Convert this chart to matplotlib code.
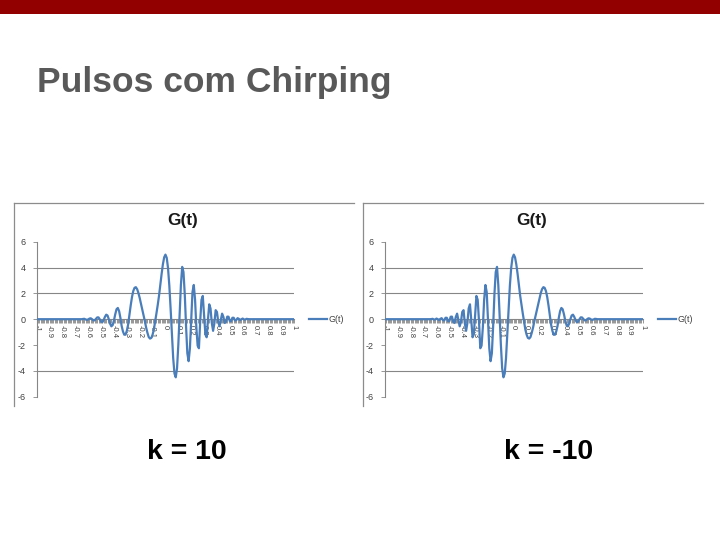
import numpy as np
import matplotlib
matplotlib.use("Agg")
import matplotlib.pyplot as plt
from matplotlib.lines import Line2D
from matplotlib.patches import Rectangle

plt.rcParams['font.family'] = ['Liberation Sans', 'DejaVu Sans']

# ---------------- data ----------------
slide_title = "Pulsos com Chirping"
chart_title = "G(t)"
series_name = "G(t)"
panel_labels = ["k = 10", "k = -10"]

# categories t = -1.00 ... 1.00 (step 0.01)
t = np.round(np.linspace(-1.0, 1.0, 201), 2)

g_k10 = [
    0, 0, 0, 0, 0, 0, 0, 0, 0, 0,
    0, 0, 0, 0, 0, 0, 0, 0, 0, 0,
    0, 0, 0, 0, 0, 0, 0, 0, 0, 0,
    0, 0, 0, 0, 0, 0.00, 0.02, 0.03, -0.02, -0.05,
    -0.02, 0.05, 0.07, 0.00, -0.09, -0.09, 0.02, 0.14, 0.14, -0.01,
    -0.19, -0.23, -0.07, 0.18, 0.35, 0.29, 0.00, -0.35, -0.55, -0.46,
    -0.10, 0.38, 0.77, 0.87, 0.63, 0.11, -0.53, -0.95, -1.20, -1.20,
    -0.90, -0.42, 0.32, 1.06, 1.71, 2.18, 2.43, 2.48, 2.33, 2.03,
    1.64, 1.19, 0.73, 0.29, -0.15, -0.65, -1.05, -1.38, -1.50, -1.45,
    -1.20, -0.80, -0.20, 0.45, 1.10, 1.81, 2.65, 3.49, 4.24, 4.79,
    5.00,
    4.75, 3.96, 2.61, 0.83, -1.16, -3.00, -4.20, -4.50, -3.80, -1.97,
    0.43, 2.65, 4.05, 3.65, 1.94, -0.53, -2.64, -3.25, -2.25, 0.01,
    2.10, 2.65, 1.51, -0.63, -2.05, -2.25, -0.13, 1.50, 1.80, 0.27,
    -1.17, -1.40, -0.06, 1.15, 0.84, -0.29, -0.90, -0.32, 0.70, 0.56,
    -0.20, -0.55, -0.06, 0.43, 0.18, -0.29, -0.20, 0.20, 0.19, -0.14,
    -0.15, 0.11, 0.11, -0.10, -0.07, 0.08, 0.03, -0.07, 0.00, 0.05,
    -0.02, -0.03, 0.03, 0.01, 0, 0, 0, 0, 0, 0,
    0, 0, 0, 0, 0, 0, 0, 0, 0, 0,
    0, 0, 0, 0, 0, 0, 0, 0, 0, 0,
    0, 0, 0, 0, 0, 0, 0, 0, 0, 0,
]

g_kneg10 = [
    0, 0, 0, 0, 0, 0, 0, 0, 0, 0,
    0, 0, 0, 0, 0, 0, 0, 0, 0, 0,
    0, 0, 0, 0, 0, 0, 0, 0, 0, 0,
    0, 0, 0, 0, 0, 0, 0.01, 0.03, -0.03, -0.02,
    0.05, 0.00, -0.07, 0.03, 0.08, -0.07, -0.10, 0.11, 0.11, -0.15,
    -0.14, 0.19, 0.20, -0.20, -0.29, 0.18, 0.43, -0.06, -0.55, -0.20,
    0.56, 0.70, -0.32, -0.90, -0.29, 0.84, 1.15, -0.06, -1.40, -1.17,
    0.27, 1.80, 1.50, -0.13, -2.25, -2.05, -0.63, 1.51, 2.65, 2.10,
    0.01, -2.25, -3.25, -2.64, -0.53, 1.94, 3.65, 4.05, 2.65, 0.43,
    -1.97, -3.80, -4.50, -4.20, -3.00, -1.16, 0.83, 2.61, 3.96, 4.75,
    5.00,
    4.79, 4.24, 3.49, 2.65, 1.81, 1.10, 0.45, -0.20, -0.80, -1.20,
    -1.45, -1.50, -1.38, -1.05, -0.65, -0.15, 0.29, 0.73, 1.19, 1.64,
    2.03, 2.33, 2.48, 2.43, 2.18, 1.71, 1.06, 0.32, -0.42, -0.90,
    -1.20, -1.20, -0.95, -0.53, 0.11, 0.63, 0.87, 0.77, 0.38, -0.10,
    -0.46, -0.55, -0.35, 0.00, 0.29, 0.35, 0.18, -0.07, -0.23, -0.19,
    -0.01, 0.14, 0.14, 0.02, -0.09, -0.09, 0.00, 0.07, 0.05, -0.02,
    -0.05, -0.02, 0.03, 0.02, 0.00, 0, 0, 0, 0, 0,
    0, 0, 0, 0, 0, 0, 0, 0, 0, 0,
    0, 0, 0, 0, 0, 0, 0, 0, 0, 0,
    0, 0, 0, 0, 0, 0, 0, 0, 0, 0,
]

x_tick_vals = t[::10]
x_tick_labels = ["-1", "-0.9", "-0.8", "-0.7", "-0.6", "-0.5", "-0.4", "-0.3",
                 "-0.2", "-0.1", "0", "0.1", "0.2", "0.3", "0.4", "0.5",
                 "0.6", "0.7", "0.8", "0.9", "1"]
y_tick_vals = [-6, -4, -2, 0, 2, 4, 6]
y_tick_labels = ["-6", "-4", "-2", "0", "2", "4", "6"]
grid_vals = [4, 2, -4]

# ---------------- figure ----------------
W, H = 720, 540
fig = plt.figure(figsize=(W / 100, H / 100), dpi=100)
fig.patch.set_facecolor('white')


def fx(px):
    return px / W


def fy(py):
    return 1 - py / H


# top red band
fig.patches.append(Rectangle((0, fy(14)), 1, 14 / H, transform=fig.transFigure,
                             facecolor='#930000', edgecolor='none', zorder=0))

fig.text(fx(37), fy(91.5), slide_title, fontsize=25.5, fontweight='bold',
         color='#595959', ha='left', va='baseline')

LINE_C = '#4A7EBB'
AX_C = '#868686'

panels = [
    dict(frame_x=13.5, frame_r=354, ax_l=36.7, title_x=183, leg_x=309,
         data=g_k10, label=panel_labels[0], label_x=147),
    dict(frame_x=362.5, frame_r=703, ax_l=385.0, title_x=532, leg_x=658,
         data=g_kneg10, label=panel_labels[1], label_x=504),
]

for p in panels:
    # chart frame (left + top edges)
    fig.add_artist(Line2D([fx(p['frame_x']), fx(p['frame_x'])], [fy(202.5), fy(406)],
                          transform=fig.transFigure, color='#8c8c8c', lw=0.9))
    fig.add_artist(Line2D([fx(p['frame_x']), fx(p['frame_r'])], [fy(202.5), fy(202.5)],
                          transform=fig.transFigure, color='#8c8c8c', lw=0.9))

    ax = fig.add_axes([fx(p['ax_l']), fy(396.7), 257.5 / W, 155 / H])
    ax.patch.set_alpha(0)
    for y in grid_vals:
        ax.axhline(y, color=AX_C, lw=0.8, zorder=1)
    ax.plot(t, p['data'], color=LINE_C, lw=1.6, zorder=3, label=series_name,
            solid_joinstyle='round')
    ax.set_xlim(-1, 1)
    ax.set_ylim(-6, 6)
    ax.spines['top'].set_visible(False)
    ax.spines['right'].set_visible(False)
    ax.spines['left'].set_color(AX_C)
    ax.spines['left'].set_linewidth(0.8)
    ax.spines['bottom'].set_position(('data', 0))
    ax.spines['bottom'].set_color(AX_C)
    ax.spines['bottom'].set_linewidth(0.8)

    ax.set_xticks(x_tick_vals)
    ax.set_xticklabels(x_tick_labels, rotation=-90, fontsize=5.5, color='#404040')
    ax.set_xticks(t, minor=True)
    ax.tick_params(axis='x', which='major', length=3, width=0.6, color=AX_C, pad=1.5)
    ax.tick_params(axis='x', which='minor', length=3, width=0.6, color=AX_C)

    ax.set_yticks(y_tick_vals)
    ax.set_yticklabels(y_tick_labels, fontsize=6.5, color='#404040')
    ax.tick_params(axis='y', length=3, width=0.6, color=AX_C, pad=5)

    ax.legend(loc='center left', bbox_to_anchor=(fx(p['leg_x']), fy(319.5)),
              bbox_transform=fig.transFigure, frameon=False, fontsize=6.5,
              handlelength=2.0, handletextpad=0.15, borderpad=0, borderaxespad=0,
              labelcolor='#404040')

    fig.text(fx(p['title_x']), fy(220), chart_title, fontsize=12.4,
             fontweight='bold', color='#1a1a1a', ha='center', va='center')

    fig.text(fx(p['label_x']), fy(459), p['label'], fontsize=20.5,
             fontweight='bold', color='black', ha='left', va='baseline')

fig.savefig('out.png', dpi=100)
